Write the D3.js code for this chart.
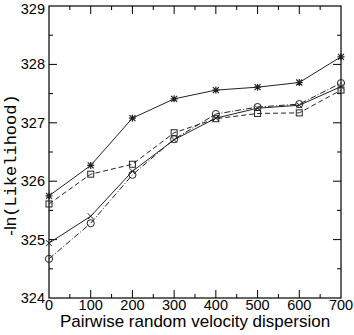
<!DOCTYPE html>
<html>
<head>
<meta charset="utf-8">
<script src="https://cdn.jsdelivr.net/npm/d3@7"></script>
<style>
  body { margin: 0; background: #fff; }
  svg text { font-family: "Liberation Sans", Arial, sans-serif; fill: #000; }
</style>
</head>
<body>
<div id="chart"></div>
<script>
// Values
const dispersion = [0, 100, 200, 300, 400, 500, 600, 700];
const starSeries = [325.75, 326.27, 327.08, 327.41, 327.56, 327.61, 327.69, 328.13];
const squareSeries = [325.61, 326.12, 326.29, 326.83, 327.07, 327.16, 327.17, 327.56];
const crossSeries = [324.94, 325.40, 326.17, 326.71, 327.08, 327.25, 327.30, 327.62];
const circleSeries = [324.67, 325.28, 326.11, 326.72, 327.15, 327.27, 327.32, 327.68];
const xTicks = [0, 100, 200, 300, 400, 500, 600, 700];
const yTicks = [324, 325, 326, 327, 328, 329];

const series = [
    {values: squareSeries, marker: 'square', dash: '5,3'},
    {values: circleSeries, marker: 'circle', dash: '6,2,1,2'},
    {values: crossSeries, marker: 'cross', dash: null},
    {values: starSeries, marker: 'star', dash: null}
];

const W = 354, H = 335;
const margin = {top: 6, right: 13, bottom: 37, left: 49};
const width = W - margin.left - margin.right;
const height = H - margin.top - margin.bottom;

const svg = d3.select('#chart').append('svg')
    .attr('width', W)
    .attr('height', H)
  .append('g')
    .attr('transform', `translate(${margin.left},${margin.top})`);

const x = d3.scaleLinear().domain([0, 700]).range([0, width]);
const y = d3.scaleLinear().domain([324, 329]).range([height, 0]);

// Frame
svg.append('rect')
    .attr('width', width)
    .attr('height', height)
    .attr('fill', 'none')
    .attr('stroke', '#000')
    .attr('stroke-width', 1.2);

// Inward ticks, major and minor, on all four sides
const xMinor = d3.range(50, 700, 100);
const yMinor = d3.range(324.5, 329, 1);

function tickLines(g, vals, scale, len, orient) {
    g.selectAll(null)
        .data(vals)
      .enter().append('line')
        .attr('stroke', '#000')
        .attr('stroke-width', 1)
        .each(function(d) {
            const s = d3.select(this);
            if (orient === 'bottom') s.attr('x1', scale(d)).attr('x2', scale(d)).attr('y1', height).attr('y2', height - len);
            if (orient === 'top') s.attr('x1', scale(d)).attr('x2', scale(d)).attr('y1', 0).attr('y2', len);
            if (orient === 'left') s.attr('y1', scale(d)).attr('y2', scale(d)).attr('x1', 0).attr('x2', len);
            if (orient === 'right') s.attr('y1', scale(d)).attr('y2', scale(d)).attr('x1', width).attr('x2', width - len);
        });
}

const ticks = svg.append('g');
['bottom', 'top'].forEach(o => {
    tickLines(ticks, xTicks.slice(1, -1), x, 8, o);
    tickLines(ticks, xMinor, x, 4, o);
});
['left', 'right'].forEach(o => {
    tickLines(ticks, yTicks.slice(1, -1), y, 8, o);
    tickLines(ticks, yMinor, y, 4, o);
});

// Tick labels
svg.selectAll('text.xt')
    .data(xTicks)
  .enter().append('text')
    .attr('class', 'xt')
    .attr('x', d => x(d))
    .attr('y', height + 12)
    .attr('text-anchor', 'middle')
    .style('font-size', '14.5px')
    .text(d => d);

// keep the top label inside the window
svg.selectAll('text.yt')
    .data(yTicks)
  .enter().append('text')
    .attr('class', 'yt')
    .attr('x', -4)
    .attr('y', d => Math.max(y(d) + 5, 14 - margin.top))
    .attr('text-anchor', 'end')
    .style('font-size', '14.5px')
    .text(d => d);

// Axis titles
svg.append('text')
    .attr('x', width / 2)
    .attr('y', height + 29)
    .attr('text-anchor', 'middle')
    .style('font-size', '17px')
    .text('Pairwise random velocity dispersion');

const yl = svg.append('text')
    .attr('transform', `translate(${-margin.left + 16},${height / 2 + 13}) rotate(-90)`)
    .attr('text-anchor', 'middle')
    .style('font-size', '17px');
yl.append('tspan').text('-ln');
yl.append('tspan').style('font-family', '"Liberation Mono", "DejaVu Sans Mono", monospace').text('(Likelihood)');

// Lines
const line = d3.line()
    .x((d, i) => x(dispersion[i]))
    .y(d => y(d));

series.forEach(s => {
    svg.append('path')
        .datum(s.values)
        .attr('d', line)
        .attr('fill', 'none')
        .attr('stroke', '#222')
        .attr('stroke-width', 1)
        .attr('stroke-dasharray', s.dash);
});

// Markers
series.forEach(s => {
    const g = svg.append('g')
        .attr('fill', 'none')
        .attr('stroke', '#222')
        .attr('stroke-width', 1);
    s.values.forEach((v, i) => {
        const cx = x(dispersion[i]), cy = y(v);
        if (s.marker === 'circle') {
            g.append('circle').attr('cx', cx).attr('cy', cy).attr('r', 3.6);
        } else if (s.marker === 'square') {
            g.append('rect').attr('x', cx - 3).attr('y', cy - 3).attr('width', 6).attr('height', 6);
        } else if (s.marker === 'cross') {
            g.append('path').attr('d', `M${cx - 3},${cy - 3}L${cx + 3},${cy + 3}M${cx - 3},${cy + 3}L${cx + 3},${cy - 3}`);
        } else {
            g.append('path')
                .attr('stroke-width', 1.2)
                .attr('d', `M${cx - 3},${cy - 3}L${cx + 3},${cy + 3}M${cx - 3},${cy + 3}L${cx + 3},${cy - 3}M${cx - 3.5},${cy}L${cx + 3.5},${cy}M${cx},${cy - 3.5}L${cx},${cy + 3.5}`);
        }
    });
});
</script>
</body>
</html>
